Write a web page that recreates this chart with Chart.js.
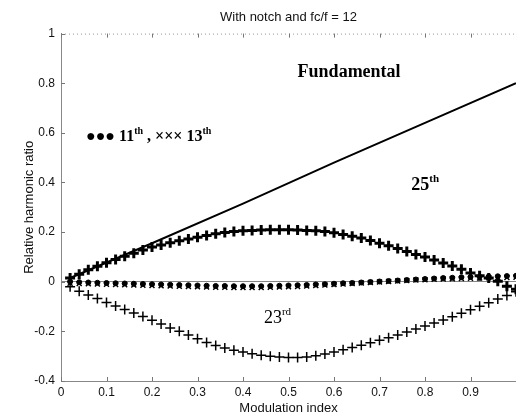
<!DOCTYPE html>
<html>
<head>
<meta charset="utf-8">
<script src="https://cdn.jsdelivr.net/npm/chart.js@4/dist/chart.umd.min.js"></script>
<style>
  body { margin: 0; background: #fff; }
  #wrap { width: 516px; height: 417px; }
</style>
</head>
<body>
<div id="wrap"><canvas id="harmChart" width="516" height="417"></canvas></div>
<script>
// modulation index samples for the marker series
var mIndex = [0.02, 0.04, 0.06, 0.08, 0.10, 0.12, 0.14, 0.16, 0.18, 0.20,
              0.22, 0.24, 0.26, 0.28, 0.30, 0.32, 0.34, 0.36, 0.38, 0.40,
              0.42, 0.44, 0.46, 0.48, 0.50, 0.52, 0.54, 0.56, 0.58, 0.60,
              0.62, 0.64, 0.66, 0.68, 0.70, 0.72, 0.74, 0.76, 0.78, 0.80,
              0.82, 0.84, 0.86, 0.88, 0.90, 0.92, 0.94, 0.96, 0.98, 1.00];

var fundM = [0.02, 0.2, 0.4, 0.6, 0.8, 1.0];
var fundV = [0.015, 0.155, 0.315, 0.48, 0.64, 0.8];

var h25 = [0.015, 0.03, 0.048, 0.062, 0.077, 0.09, 0.103, 0.115, 0.128, 0.14,
           0.148, 0.157, 0.165, 0.172, 0.179, 0.186, 0.193, 0.198, 0.202, 0.205,
           0.207, 0.209, 0.21, 0.21, 0.21, 0.209, 0.207, 0.205, 0.202, 0.197,
           0.19, 0.183, 0.176, 0.166, 0.155, 0.145, 0.134, 0.122, 0.11, 0.1,
           0.088, 0.076, 0.063, 0.05, 0.035, 0.024, 0.015, 0.002, -0.018, -0.03];

var h23 = [-0.02, -0.038, -0.053, -0.068, -0.084, -0.098, -0.112, -0.126, -0.14, -0.155,
           -0.17, -0.186, -0.2, -0.215, -0.23, -0.245, -0.257, -0.267, -0.276, -0.283,
           -0.29, -0.296, -0.3, -0.303, -0.305, -0.305, -0.303, -0.298, -0.291, -0.283,
           -0.274, -0.265, -0.256, -0.246, -0.236, -0.226, -0.215, -0.203, -0.19, -0.178,
           -0.166, -0.154, -0.141, -0.127, -0.113, -0.099, -0.085, -0.07, -0.055, -0.04];

var h11 = [0.0, -0.002, -0.003, -0.004, -0.005, -0.006, -0.007, -0.008, -0.009, -0.01,
           -0.011, -0.012, -0.013, -0.014, -0.015, -0.016, -0.017, -0.017, -0.018, -0.018,
           -0.018, -0.018, -0.017, -0.016, -0.015, -0.014, -0.013, -0.011, -0.01, -0.008,
           -0.006, -0.005, -0.003, -0.001, 0.001, 0.003, 0.005, 0.007, 0.009, 0.011,
           0.013, 0.015, 0.016, 0.018, 0.019, 0.02, 0.021, 0.022, 0.023, 0.024];

var h13 = [-0.006, -0.007, -0.008, -0.009, -0.01, -0.011, -0.012, -0.013, -0.014, -0.015,
           -0.016, -0.017, -0.018, -0.019, -0.02, -0.021, -0.022, -0.022, -0.023, -0.023,
           -0.023, -0.023, -0.022, -0.021, -0.02, -0.019, -0.017, -0.015, -0.013, -0.011,
           -0.009, -0.007, -0.005, -0.003, -0.001, 0.001, 0.003, 0.005, 0.007, 0.008,
           0.01, 0.011, 0.012, 0.013, 0.014, 0.015, 0.016, 0.017, 0.017, 0.018];

function pts(xs, ys) {
    return xs.map(function (x, i) { return { x: x, y: ys[i] }; });
}

// draws a label with superscript parts, e.g. [['25'], ['th', true]]
function supText(ctx, parts, x, y, size, weight) {
    parts.forEach(function (p) {
        var s = p[1] ? Math.round(size * 0.62) : size;
        ctx.font = weight + ' ' + s + 'px "Liberation Serif", "Times New Roman", serif';
        ctx.fillText(p[0], x, p[1] ? y - size * 0.42 : y);
        x += ctx.measureText(p[0]).width;
    });
}

var decor = {
    id: 'decor',
    afterDraw: function (chart) {
        var ctx = chart.ctx, xs = chart.scales.x, ys = chart.scales.y, a = chart.chartArea;
        ctx.save();
        // dotted top border
        ctx.strokeStyle = '#9a9a9a';
        ctx.lineWidth = 1;
        ctx.setLineDash([1, 3]);
        ctx.beginPath();
        ctx.moveTo(a.left, a.top + 0.5);
        ctx.lineTo(a.right, a.top + 0.5);
        ctx.stroke();
        ctx.setLineDash([]);
        // inward ticks
        ctx.strokeStyle = '#777';
        xs.ticks.forEach(function (t) {
            var px = Math.round(xs.getPixelForValue(t.value)) + 0.5;
            ctx.beginPath(); ctx.moveTo(px, a.bottom); ctx.lineTo(px, a.bottom - 4); ctx.stroke();
            ctx.beginPath(); ctx.moveTo(px, a.top); ctx.lineTo(px, a.top + 4); ctx.stroke();
        });
        ys.ticks.forEach(function (t) {
            var py = Math.round(ys.getPixelForValue(t.value)) + 0.5;
            ctx.beginPath(); ctx.moveTo(a.left, py); ctx.lineTo(a.left + 4, py); ctx.stroke();
        });
        // text labels
        ctx.fillStyle = '#000';
        ctx.textBaseline = 'alphabetic';
        ctx.textAlign = 'left';
        supText(ctx, [['Fundamental']], xs.getPixelForValue(0.52), ys.getPixelForValue(0.827), 18, 'bold');
        supText(ctx, [['\u25cf\u25cf\u25cf 11'], ['th', true], [' , \u00d7\u00d7\u00d7 13'], ['th', true]],
                xs.getPixelForValue(0.055), ys.getPixelForValue(0.569), 16, 'bold');
        supText(ctx, [['25'], ['th', true]], xs.getPixelForValue(0.77), ys.getPixelForValue(0.371), 18, 'bold');
        supText(ctx, [['23'], ['rd', true]], xs.getPixelForValue(0.446), ys.getPixelForValue(-0.165), 18, 'normal');
        ctx.restore();
    }
};

var tickFont = { family: '"Liberation Sans", Arial, sans-serif', size: 12 };
var titleFont = { family: '"Liberation Sans", Arial, sans-serif', size: 13 };

function numLabel(v) {
    return String(Math.round(v * 10) / 10);
}

var ctx = document.getElementById('harmChart').getContext('2d');

var myChart = new Chart(ctx, {
    type: 'line',
    data: {
        datasets: [{
            label: 'Fundamental',
            data: pts(fundM, fundV),
            borderColor: '#000',
            borderWidth: 2,
            pointRadius: 0,
            tension: 0
        }, {
            label: '25th',
            data: pts(mIndex, h25),
            showLine: false,
            pointStyle: 'cross',
            pointRadius: 5,
            borderColor: '#000',
            borderWidth: 3
        }, {
            label: '23rd',
            data: pts(mIndex, h23),
            showLine: false,
            pointStyle: 'cross',
            pointRadius: 5,
            borderColor: '#000',
            borderWidth: 1.5
        }, {
            label: '11th',
            data: pts(mIndex, h11),
            showLine: false,
            pointStyle: 'circle',
            pointRadius: 2.5,
            backgroundColor: '#000',
            borderColor: '#000',
            borderWidth: 1
        }, {
            label: '13th',
            data: pts(mIndex, h13),
            showLine: false,
            pointStyle: 'crossRot',
            pointRadius: 3.5,
            borderColor: '#000',
            borderWidth: 1.5
        }]
    },
    options: {
        responsive: false,
        animation: false,
        layout: { padding: 0, autoPadding: false },
        plugins: {
            legend: { display: false },
            tooltip: { enabled: false },
            title: {
                display: true,
                fullSize: false,
                text: 'With notch and fc/f = 12',
                color: '#111',
                font: { family: '"Liberation Sans", Arial, sans-serif', size: 13, weight: 'normal' },
                padding: { top: 10, bottom: 8 }
            }
        },
        scales: {
            x: {
                type: 'linear',
                min: 0,
                max: 1,
                ticks: {
                    stepSize: 0.1,
                    color: '#111',
                    font: tickFont,
                    padding: 4,
                    maxRotation: 0,
                    callback: function (v) { return v >= 0.999 ? '' : numLabel(v); }
                },
                grid: { display: false, drawTicks: false },
                border: { color: '#888' },
                title: {
                    display: true,
                    text: 'Modulation index',
                    color: '#111',
                    font: titleFont,
                    padding: { top: 1, bottom: 1 }
                },
                afterFit: function (s) { s.height = 36; s.paddingLeft = 0; s.paddingRight = 0; }
            },
            y: {
                min: -0.4,
                max: 1,
                ticks: {
                    stepSize: 0.2,
                    color: '#111',
                    font: tickFont,
                    padding: 6,
                    callback: function (v) { return numLabel(v); }
                },
                grid: {
                    drawTicks: false,
                    color: function (c) { return c.tick && Math.abs(c.tick.value) < 1e-9 ? '#666' : 'rgba(0,0,0,0)'; },
                    lineWidth: 0.8
                },
                border: { color: '#888' },
                title: {
                    display: true,
                    text: 'Relative harmonic ratio',
                    color: '#111',
                    font: titleFont,
                    padding: { top: 22, bottom: 0 }
                },
                afterFit: function (s) { s.width = 61; }
            }
        }
    },
    plugins: [decor]
});
</script>
</body>
</html>
